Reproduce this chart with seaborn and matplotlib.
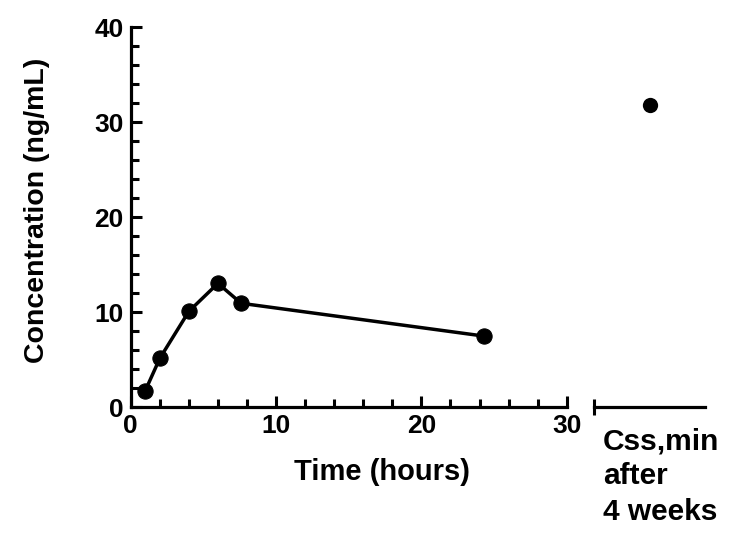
import pandas as pd
import matplotlib
matplotlib.use('Agg')
import matplotlib.pyplot as plt
import seaborn as sns
from matplotlib.ticker import MultipleLocator

# Data
time_hours = [1, 2, 4, 6, 7.6, 24.3]
concentration = [1.75, 5.15, 10.1, 13.05, 10.95, 7.5]
css_group = ['Css,min\nafter\n4 weeks']
css_value = [31.8]

sns.set_theme(style='ticks')
plt.rcParams['font.family'] = ['Liberation Sans', 'DejaVu Sans']
plt.rcParams['font.weight'] = 'bold'
plt.rcParams['axes.labelweight'] = 'bold'
plt.rcParams['text.color'] = 'black'
plt.rcParams['axes.labelcolor'] = 'black'
plt.rcParams['xtick.labelcolor'] = 'black'
plt.rcParams['ytick.labelcolor'] = 'black'

fig = plt.figure(figsize=(7.5, 5.4), dpi=100)
ax = fig.add_axes([0.1743, 0.2457, 0.5813, 0.7037])
ax2 = fig.add_axes([0.792, 0.2457, 0.148, 0.7037])

# Main time course
sns.lineplot(x=time_hours, y=concentration, marker='o', markersize=11,
             color='black', linewidth=2.5, markeredgecolor='black', ax=ax)
ax.set_xlim(0, 30)
ax.set_ylim(0, 40)
ax.xaxis.set_major_locator(MultipleLocator(10))
ax.xaxis.set_minor_locator(MultipleLocator(2))
ax.yaxis.set_major_locator(MultipleLocator(10))
ax.yaxis.set_minor_locator(MultipleLocator(2))
for side in ['top', 'right']:
    ax.spines[side].set_visible(False)
for side in ['left', 'bottom']:
    ax.spines[side].set_linewidth(2.3)
    ax.spines[side].set_color('black')
ax.tick_params(which='major', direction='in', length=8, width=2.2,
               labelsize=19, colors='black', labelcolor='black', pad=5)
ax.tick_params(which='minor', direction='in', length=6, width=2.2, colors='black')
# end cap tick at 30 extends on both sides of the axis
last_tick = ax.xaxis.get_major_ticks()[-1]
last_tick.tick1line.set_marker('|')
last_tick.tick1line.set_markersize(11)
ax.set_xlabel('Time (hours)', fontsize=21, fontweight='bold', color='black')
ax.set_ylabel('Concentration (ng/mL)', fontsize=20.5, fontweight='bold', color='black')
ax.xaxis.set_label_coords(0.576, -0.133)
ax.yaxis.set_label_coords(-0.185, 0.519)

# Steady-state trough value after 4 weeks
css_df = pd.DataFrame({'group': css_group, 'value': css_value})
sns.stripplot(data=css_df, x='group', y='value', jitter=False, size=11,
              color='black', ax=ax2)
ax2.set_ylim(0, 40)
ax2.set_xlim(-0.5, 0.5)
for side in ['top', 'right', 'left']:
    ax2.spines[side].set_visible(False)
ax2.spines['bottom'].set_linewidth(2.3)
ax2.spines['bottom'].set_color('black')
ax2.set_yticks([])
ax2.set_xticks([-0.5])
ax2.set_xticklabels([''])
ax2.tick_params(axis='x', direction='inout', length=11, width=2.2, colors='black')
ax2.set_xlabel('')
ax2.set_ylabel('')
ax2.text(0.081, -0.052, css_group[0], transform=ax2.transAxes, ha='left',
         va='top', fontsize=21.5, fontweight='bold', linespacing=1.33,
         color='black')

fig.savefig('out.png', dpi=100, facecolor='white')
